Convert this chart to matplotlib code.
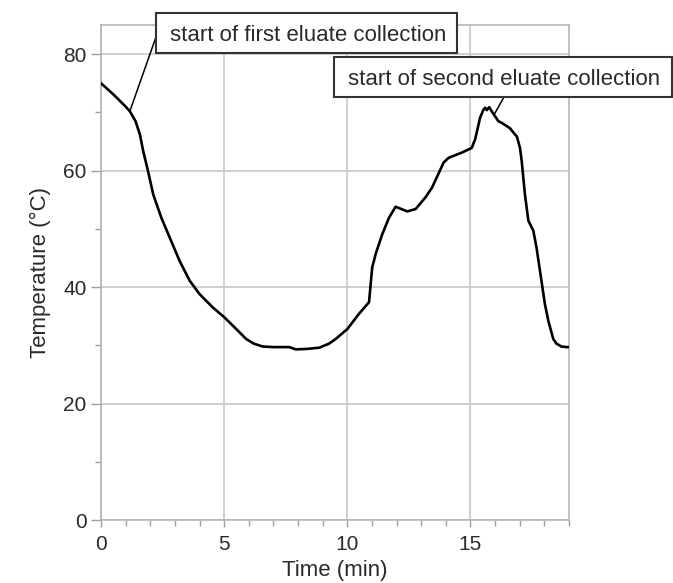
import numpy as np
import matplotlib
matplotlib.use("Agg")
import matplotlib.pyplot as plt
from matplotlib.patches import Rectangle
from matplotlib.ticker import MultipleLocator

plt.rcParams['font.family'] = ['Liberation Sans', 'DejaVu Sans']

# temperature trace (time in min, temperature in degC)
time_min = [0.0, 0.5, 1.0, 1.17, 1.4, 1.58, 1.71, 1.91, 2.12, 2.45, 2.79, 3.19,
            3.6, 4.0, 4.54, 5.01, 5.49, 5.89, 6.2, 6.56, 7.0, 7.64, 7.91, 8.4,
            8.86, 9.26, 9.53, 10.0, 10.47, 10.88, 11.01, 11.08, 11.15, 11.42,
            11.69, 11.96, 12.2, 12.43, 12.77, 13.17, 13.44, 13.91, 14.11, 14.65,
            15.05, 15.19, 15.39, 15.53, 15.6, 15.66, 15.76, 15.86, 16.13, 16.27,
            16.6, 16.81, 16.88, 17.01, 17.08, 17.21, 17.35, 17.55, 17.68, 17.88,
            18.02, 18.16, 18.36, 18.49, 18.69, 18.9, 19.0]
temp_c = [75.0, 73.1, 71.0, 70.2, 68.5, 66.2, 63.4, 59.9, 55.9, 51.9, 48.5, 44.5,
          41.1, 38.8, 36.5, 34.8, 32.8, 31.1, 30.3, 29.8, 29.7, 29.7, 29.3, 29.4,
          29.6, 30.3, 31.1, 32.8, 35.4, 37.4, 43.4, 44.5, 45.7, 49.1,
          51.9, 53.8, 53.4, 53.0, 53.4, 55.4, 57.1, 61.4, 62.2, 63.1,
          63.9, 65.4, 69.1, 70.5, 70.8, 70.4, 70.9, 70.2, 68.5, 68.2,
          67.3, 66.2, 65.9, 63.9, 61.6, 55.9, 51.4, 49.7, 46.8, 41.1,
          37.1, 34.2, 31.1, 30.3, 29.8, 29.7, 29.7]

labels = ["start of first eluate collection", "start of second eluate collection"]
label_x = [1.17, 15.97]
label_y = [70.2, 69.7]

fig = plt.figure(figsize=(6.73, 5.83), dpi=100)
ax = fig.add_axes([0.1501, 0.108, 0.6954, 0.849])

ax.plot(time_min, temp_c, color='black', lw=1.9, solid_joinstyle='round', zorder=3)

ax.set_xlim(0, 19)
ax.set_ylim(0, 85)
ax.xaxis.set_major_locator(MultipleLocator(5))
ax.xaxis.set_minor_locator(MultipleLocator(1))
ax.yaxis.set_major_locator(MultipleLocator(20))
ax.yaxis.set_minor_locator(MultipleLocator(10))
ax.grid(True, which='major', color='#c4c4c4', lw=1.1)
for s in ax.spines.values():
    s.set_color('#b0b0b0')
    s.set_linewidth(1.1)
ax.tick_params(which='both', direction='out', color='#a0a0a0', width=1.0,
               labelsize=15, labelcolor='#2a2a2a')
ax.tick_params(axis='y', which='major', length=7)
ax.tick_params(axis='y', which='minor', length=4)
ax.tick_params(axis='x', which='major', length=5, pad=6)
ax.tick_params(axis='x', which='minor', length=4)
ax.set_xlabel("Time (min)", fontsize=16, color='#2a2a2a', labelpad=4)
ax.set_ylabel("Temperature (°C)", fontsize=16, color='#2a2a2a', labelpad=9)

# callout boxes, in figure pixels: (x0, y0 from bottom, width, height)
W, H = 673.0, 583.0
boxes = [(156, 530, 301, 40), (334, 486, 338, 40)]
attach = [(156, 546), (504, 486)]
for lab, bx, at, px, py in zip(labels, boxes, attach, label_x, label_y):
    x0, y0, w, h = bx
    fig.add_artist(Rectangle((x0 / W, y0 / H), w / W, h / H, transform=fig.transFigure,
                             facecolor='white', edgecolor='#333333', lw=1.5, zorder=5))
    fig.text((x0 + 14) / W, (y0 + h / 2) / H, lab, fontsize=16, color='#2a2a2a',
             ha='left', va='center_baseline', zorder=6)
    ax.annotate('', xy=(px, py), xycoords='data',
                xytext=(at[0] / W, at[1] / H), textcoords='figure fraction',
                arrowprops=dict(arrowstyle='-', color='black', lw=1.1,
                                shrinkA=0, shrinkB=0), annotation_clip=False)

fig.savefig("out.png", dpi=100)
